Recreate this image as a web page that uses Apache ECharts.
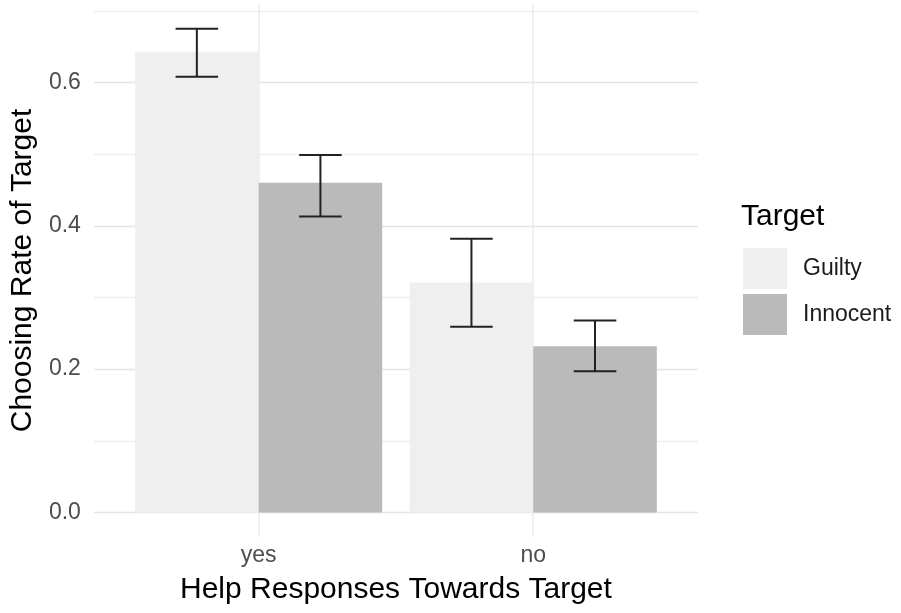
<!DOCTYPE html>
<html>
<head>
<meta charset="utf-8">
<script src="https://cdn.jsdelivr.net/npm/echarts@6/dist/echarts.min.js"></script>
<style>
  html, body { margin: 0; padding: 0; background: #ffffff; }
  #chart { width: 901px; height: 613px; }
</style>
</head>
<body>
<div id="chart"></div>
<script>
// Choosing rate by help response, split by target type
const categories = ['yes', 'no'];
const groups = ['Guilty', 'Innocent'];
const guiltyMean = [0.643, 0.321];
const innocentMean = [0.460, 0.232];
const guiltyLow = [0.608, 0.259];
const guiltyHigh = [0.675, 0.382];
const innocentLow = [0.413, 0.197];
const innocentHigh = [0.499, 0.268];
const yTickValues = [0, 0.1, 0.2, 0.3, 0.4, 0.5, 0.6, 0.7];
const yLabelValues = [0, 0.2, 0.4, 0.6];
const yTickLabels = ['0.0', '0.2', '0.4', '0.6'];

const groupColors = ['#efefef', '#bababa'];
const FONT = '"Liberation Sans", Arial, sans-serif';
const BAR_W = 0.45;     // each dodged bar, in category units
const CAP_W = 0.155;    // error bar cap width, in category units

const xPos = categories.map((c, i) => i + 1);

function barData(means) {
  return xPos.map((x, i) => [x, means[i]]);
}
function errData(lows, highs) {
  return xPos.map((x, i) => [x, lows[i], highs[i]]);
}

function barRenderer(side) {
  return function (params, api) {
    const x = api.value(0);
    const v = api.value(1);
    const x0 = side < 0 ? x - BAR_W : x;
    const p0 = api.coord([x0, 0]);
    const p1 = api.coord([x0 + BAR_W, v]);
    return {
      type: 'rect',
      shape: { x: p0[0], y: p1[1], width: p1[0] - p0[0], height: p0[1] - p1[1] },
      style: { fill: api.visual('color') }
    };
  };
}

function errRenderer(side) {
  return function (params, api) {
    const xc = api.value(0) + side * BAR_W / 2;
    const lo = api.coord([xc, api.value(1)]);
    const hi = api.coord([xc, api.value(2)]);
    const l = api.coord([xc - CAP_W / 2, 0])[0];
    const r = api.coord([xc + CAP_W / 2, 0])[0];
    const st = { stroke: '#222222', lineWidth: 2 };
    return {
      type: 'group',
      children: [
        { type: 'line', shape: { x1: lo[0], y1: lo[1], x2: hi[0], y2: hi[1] }, style: st },
        { type: 'line', shape: { x1: l, y1: hi[1], x2: r, y2: hi[1] }, style: st },
        { type: 'line', shape: { x1: l, y1: lo[1], x2: r, y2: lo[1] }, style: st }
      ]
    };
  };
}

function yLabel(v) {
  for (let i = 0; i < yLabelValues.length; i++) {
    if (Math.abs(yLabelValues[i] - v) < 1e-9) return yTickLabels[i];
  }
  return '';
}

const chart = echarts.init(document.getElementById('chart'), null, { renderer: 'canvas' });

chart.setOption({
  backgroundColor: '#ffffff',
  animation: false,
  title: {
    text: 'Target',
    left: 741,
    top: 202,
    padding: 0,
    textStyle: { fontFamily: FONT, fontSize: 30, fontWeight: 'normal', color: '#000000' }
  },
  legend: {
    orient: 'vertical',
    left: 743,
    top: 248,
    padding: 0,
    itemWidth: 44,
    itemHeight: 41,
    itemGap: 5,
    selectedMode: false,
    data: groups.map((g, i) => ({ name: g, icon: 'rect', itemStyle: { color: groupColors[i] } })),
    textStyle: { fontFamily: FONT, fontSize: 23, color: '#1a1a1a', padding: [0, 0, 0, 11] }
  },
  grid: { left: 93, right: 203, top: 4, bottom: 76, containLabel: false },
  xAxis: {
    type: 'value',
    min: 0.4,
    max: 2.6,
    name: 'Help Responses Towards Target',
    nameLocation: 'middle',
    nameGap: 38,
    nameTextStyle: { fontFamily: FONT, fontSize: 30, color: '#000000' },
    axisLine: { show: false },
    axisTick: { show: false, customValues: xPos },
    axisLabel: {
      customValues: xPos,
      margin: 7,
      fontFamily: FONT,
      fontSize: 23,
      color: '#4d4d4d',
      formatter: v => categories[Math.round(v) - 1]
    },
    splitLine: { show: true, lineStyle: { color: '#ebebeb', width: 1.5 } }
  },
  yAxis: {
    type: 'value',
    min: -0.0343,
    max: 0.7096,
    name: 'Choosing Rate of Target',
    nameLocation: 'middle',
    nameRotate: 90,
    nameGap: 51,
    nameTextStyle: { fontFamily: FONT, fontSize: 30, color: '#000000' },
    axisLine: { show: false },
    axisTick: { show: false, customValues: yTickValues },
    axisLabel: {
      customValues: yLabelValues,
      margin: 13,
      fontFamily: FONT,
      fontSize: 23,
      color: '#4d4d4d',
      formatter: yLabel
    },
    splitLine: { show: true, lineStyle: { color: ['#e4e4e4', '#efefef'], width: 1.4 } }
  },
  series: [
    {
      name: groups[0], type: 'custom', renderItem: barRenderer(-1),
      itemStyle: { color: groupColors[0] }, encode: { x: 0, y: 1 },
      data: barData(guiltyMean), z: 2
    },
    {
      name: groups[1], type: 'custom', renderItem: barRenderer(1),
      itemStyle: { color: groupColors[1] }, encode: { x: 0, y: 1 },
      data: barData(innocentMean), z: 2
    },
    {
      name: 'err-' + groups[0], type: 'custom', renderItem: errRenderer(-1),
      encode: { x: 0, y: [1, 2] }, data: errData(guiltyLow, guiltyHigh), z: 3
    },
    {
      name: 'err-' + groups[1], type: 'custom', renderItem: errRenderer(1),
      encode: { x: 0, y: [1, 2] }, data: errData(innocentLow, innocentHigh), z: 3
    }
  ]
});
</script>
</body>
</html>
